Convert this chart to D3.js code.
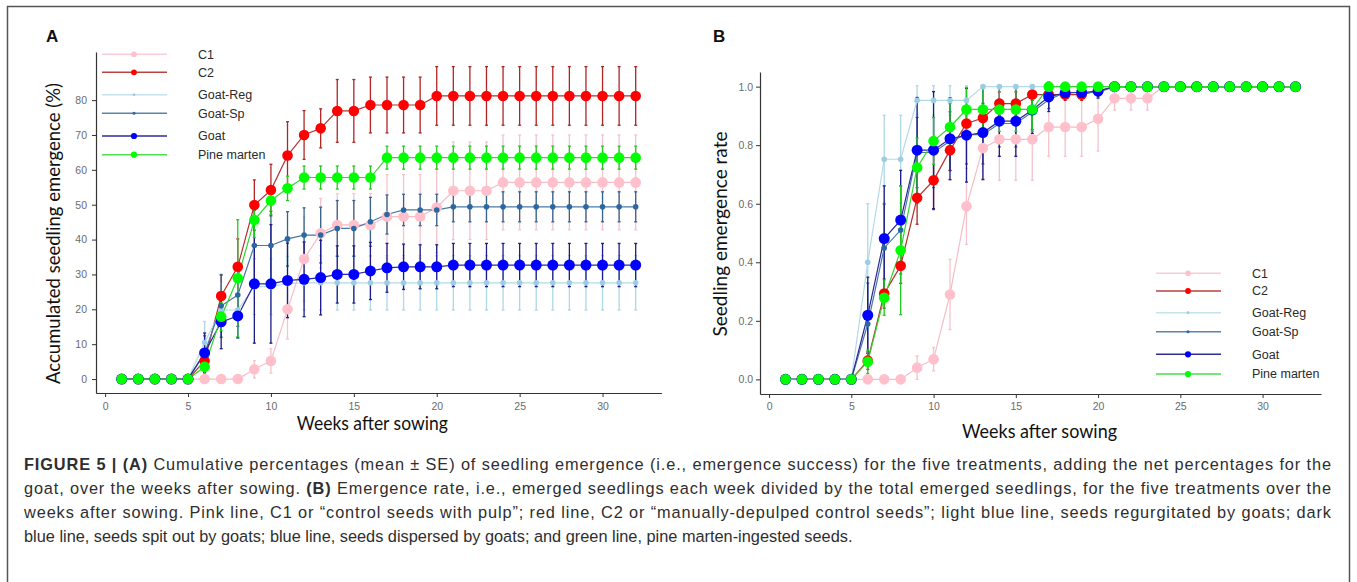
<!DOCTYPE html>
<html>
<head>
<meta charset="utf-8">
<script src="https://cdn.jsdelivr.net/npm/d3@7"></script>
<style>
  body { margin: 0; background: #fff; }
  svg { display: block; }
</style>
</head>
<body>
<svg id="fig" width="1357" height="582"></svg>
<script>
// ---- data ----
const weeks = [1,2,3,4,5,6,7,8,9,10,11,12,13,14,15,16,17,18,19,20,21,22,23,24,25,26,27,28,29,30,31,32];
const seriesNames = ["C1", "C2", "Goat-Reg", "Goat-Sp", "Goat", "Pine marten"];
const xTicks = [0, 5, 10, 15, 20, 25, 30];
const yTicksA = [0, 10, 20, 30, 40, 50, 60, 70, 80];
const yTicksB = [0, 0.2, 0.4, 0.6, 0.8, 1.0];

// Panel A: accumulated emergence (%) and SE
const a_C1 = [0,0,0,0,0,0,0,0,2.8,5.2,20,34.4,41.8,44.2,44.2,44.2,46.6,46.6,46.6,49.2,54,54,54,56.4,56.4,56.4,56.4,56.4,56.4,56.4,56.4,56.4];
const a_C1_se = [0,0,0,0,0,0,0,0,2.5,3.5,8.5,12,10,9,9,9,12,12,12,13,14,14,14,13.6,13.6,13.6,13.6,13.6,13.6,13.6,13.6,13.6];
const a_C2 = [0,0,0,0,0,5.2,23.8,32.2,49.9,54.2,64.1,70,71.9,76.9,76.9,78.6,78.6,78.6,78.6,81.2,81.2,81.2,81.2,81.2,81.2,81.2,81.2,81.2,81.2,81.2,81.2,81.2];
const a_C2_se = [0,0,0,0,0,3,6,8,7.2,7.4,9.7,7,5.6,9,9,8,8,8,8,8.4,8.4,8.4,8.4,8.4,8.4,8.4,8.4,8.4,8.4,8.4,8.4,8.4];
const a_GR = [0,0,0,0,0,10.5,19.8,19.8,26.5,26.5,27.4,27.6,27.6,27.6,27.6,27.6,27.6,27.6,27.6,27.6,27.6,27.6,27.6,27.6,27.6,27.6,27.6,27.6,27.6,27.6,27.6,27.6];
const a_GR_se = [0,0,0,0,0,6,8,8,8,8,7.8,7.8,7.8,7.8,7.8,7.8,7.8,7.8,7.8,7.8,7.8,7.8,7.8,7.8,7.8,7.8,7.8,7.8,7.8,7.8,7.8,7.8];
const a_GS = [0,0,0,0,0,7.4,21,24.1,38.3,38.3,40.2,41.3,41.3,43.2,43.2,45.1,47.2,48.5,48.5,48.5,49.4,49.4,49.4,49.4,49.4,49.4,49.4,49.4,49.4,49.4,49.4,49.4];
const a_GS_se = [0,0,0,0,0,5,9,9,10,9.8,7.8,7.8,8,8,8,7,5.6,4.5,4.5,4.5,4.3,4.3,4.3,4.3,4.3,4.3,4.3,4.3,4.3,4.3,4.3,4.3];
const a_G = [0,0,0,0,0,7.5,16.4,18.1,27.3,27.3,28.3,28.6,29.1,30,30,31,31.9,32.2,32.2,32.2,32.7,32.7,32.7,32.7,32.7,32.7,32.7,32.7,32.7,32.7,32.7,32.7];
const a_G_se = [0,0,0,0,0,5.7,7.7,6.3,17,17,10.7,10.7,10.7,8.2,8.2,8.2,7,6.5,6.3,6.3,6.2,6.2,6.2,6.2,6.2,6.2,6.2,6.2,6.2,6.2,6.2,6.2];
const a_PM = [0,0,0,0,0,3.5,17.9,28.9,45.6,51.2,54.7,57.8,57.8,57.8,57.8,57.8,63.5,63.5,63.5,63.5,63.5,63.5,63.5,63.5,63.5,63.5,63.5,63.5,63.5,63.5,63.5,63.5];
const a_PM_se = [0,0,0,0,0,3.5,4,16.8,5,4,3.5,3.3,3.3,3.3,3.3,3.3,3.3,3.3,3.3,3.3,3.3,3.3,3.3,3.3,3.3,3.3,3.3,3.3,3.3,3.3,3.3,3.3];

// Panel B: emergence rate and SE
const b_C1 = [0,0,0,0,0,0,0,0,0.04,0.069,0.29,0.591,0.79,0.82,0.82,0.82,0.862,0.862,0.862,0.89,0.96,0.96,0.96,1,1,1,1,1,1,1,1,1];
const b_C1_se = [0,0,0,0,0,0,0,0,0.04,0.04,0.12,0.13,0.11,0.14,0.14,0.14,0.1,0.1,0.1,0.11,0.04,0.04,0.04,0,0,0,0,0,0,0,0,0];
const b_C2 = [0,0,0,0,0,0.064,0.293,0.388,0.62,0.68,0.783,0.874,0.893,0.942,0.942,0.973,0.973,0.973,0.973,0.985,1,1,1,1,1,1,1,1,1,1,1,1];
const b_C2_se = [0,0,0,0,0,0.03,0.05,0.06,0.09,0.1,0.07,0.05,0.05,0.04,0.04,0.02,0.02,0.02,0.02,0.01,0,0,0,0,0,0,0,0,0,0,0,0];
const b_GR = [0,0,0,0,0,0.4,0.752,0.752,0.953,0.953,0.953,0.953,1,1,1,1,1,1,1,1,1,1,1,1,1,1,1,1,1,1,1,1];
const b_GR_se = [0,0,0,0,0,0.2,0.15,0.15,0.05,0.05,0.05,0.05,0,0,0,0,0,0,0,0,0,0,0,0,0,0,0,0,0,0,0,0];
const b_GS = [0,0,0,0,0,0.189,0.449,0.51,0.775,0.775,0.814,0.836,0.836,0.874,0.874,0.913,0.955,0.98,0.98,0.98,1,1,1,1,1,1,1,1,1,1,1,1];
const b_GS_se = [0,0,0,0,0,0.14,0.15,0.15,0.12,0.12,0.1,0.1,0.1,0.08,0.08,0.06,0.03,0.02,0.02,0.02,0,0,0,0,0,0,0,0,0,0,0,0];
const b_G = [0,0,0,0,0,0.219,0.481,0.544,0.783,0.783,0.822,0.834,0.843,0.882,0.882,0.92,0.965,0.979,0.98,0.985,1,1,1,1,1,1,1,1,1,1,1,1];
const b_G_se = [0,0,0,0,0,0.13,0.18,0.17,0.18,0.2,0.14,0.16,0.16,0.12,0.12,0.08,0.05,0.02,0.02,0.02,0,0,0,0,0,0,0,0,0,0,0,0];
const b_PM = [0,0,0,0,0,0.06,0.279,0.441,0.724,0.814,0.862,0.922,0.922,0.922,0.922,0.922,1,1,1,1,1,1,1,1,1,1,1,1,1,1,1,1];
const b_PM_se = [0,0,0,0,0,0.04,0.06,0.22,0.1,0.08,0.08,0.075,0.075,0.075,0.075,0.075,0,0,0,0,0,0,0,0,0,0,0,0,0,0,0,0];

const captionLines = [
  [["FIGURE 5 | (A)", true], [" Cumulative percentages (mean \u00b1 SE) of seedling emergence (i.e., emergence success) for the five treatments, adding the net percentages for the", false]],
  [["goat, over the weeks after sowing. ", false], ["(B)", true], [" Emergence rate, i.e., emerged seedlings each week divided by the total emerged seedlings, for the five treatments over the", false]],
  [["weeks after sowing. Pink line, C1 or \u201ccontrol seeds with pulp\u201d; red line, C2 or \u201cmanually-depulped control seeds\u201d; light blue line, seeds regurgitated by goats; dark", false]],
  [["blue line, seeds spit out by goats; blue line, seeds dispersed by goats; and green line, pine marten-ingested seeds.", false]]
];

// ---- styles ----
const style = {
  "C1":          { pt: "#ffc0cb", line: "#f6bcc7", err: "#f4c3cc", r: 5.3, lr: 2.8, key: "#f8cdd5" },
  "C2":          { pt: "#ff0000", line: "#b3302e", err: "#b22424", r: 5.3, lr: 2.9, key: "#b9433f" },
  "Goat-Reg":    { pt: "#9ccde2", line: "#b3d9e7", err: "#add8e6", r: 2.8, lr: 1.4, key: "#c6e2ec" },
  "Goat-Sp":     { pt: "#2a68a2", line: "#4a78a6", err: "#36648b", r: 2.8, lr: 1.5, key: "#5a84ab" },
  "Goat":        { pt: "#0000ff", line: "#2a2a98", err: "#1c1c8a", r: 5.5, lr: 3.1, key: "#2d2d96" },
  "Pine marten": { pt: "#00ff00", line: "#33d433", err: "#22c822", r: 5.3, lr: 3.1, key: "#4ddd4d" }
};

const svg = d3.select("#fig");
const AX = "#333";
const TICK = "#6b6b6b";
const TITLE_FONT = "Lato, 'Open Sans', sans-serif";

// frame around the figure
svg.append("rect")
  .attr("x", 7.5).attr("y", 6.5).attr("width", 1342).attr("height", 640)
  .attr("fill", "none").attr("stroke", "#555").attr("stroke-width", 1.5);

function drawPanel(p) {
  const x = d3.scaleLinear().domain([-0.55, 33.55]).range(p.xRange);
  const y = d3.scaleLinear().domain(p.yDomain).range(p.yRange);
  const g = svg.append("g");

  // axes
  const xa = g.append("g")
    .attr("transform", `translate(0,${p.yRange[0]})`)
    .call(d3.axisBottom(x).tickValues(xTicks).tickSize(4).tickSizeOuter(0).tickPadding(p.xPad));
  const ya = g.append("g")
    .attr("transform", `translate(${p.xRange[0]},0)`)
    .call(d3.axisLeft(y).tickValues(p.yTicks).tickSize(4).tickSizeOuter(0).tickPadding(p.yPad)
      .tickFormat(p.tickFmt));
  [xa, ya].forEach(a => {
    a.select(".domain").attr("stroke", AX).attr("stroke-width", 1.2);
    a.selectAll(".tick line").attr("stroke", AX).attr("stroke-width", 1);
    a.selectAll(".tick text").attr("fill", TICK)
      .style("font-family", "Arial, 'Liberation Sans', sans-serif").style("font-size", "10.5px");
  });

  const line = d3.line().x((d, i) => x(weeks[i])).y(d => y(d));

  // error bars (all series), then lines, then points — like ggplot layers
  seriesNames.forEach(name => {
    const vals = p.values[name], se = p.se[name], s = style[name];
    const eg = g.append("g").attr("stroke", s.err).attr("stroke-width", 1.3).attr("fill", "none");
    vals.forEach((v, i) => {
      if (!se[i]) return;
      const cx = x(weeks[i]), y1 = y(v - se[i]), y2 = y(v + se[i]);
      eg.append("line").attr("x1", cx).attr("x2", cx).attr("y1", y1).attr("y2", y2);
      eg.append("line").attr("x1", cx - 1.5).attr("x2", cx + 1.5).attr("y1", y1).attr("y2", y1);
      eg.append("line").attr("x1", cx - 1.5).attr("x2", cx + 1.5).attr("y1", y2).attr("y2", y2);
    });
  });
  seriesNames.forEach(name => {
    g.append("path").datum(p.values[name])
      .attr("d", line).attr("fill", "none")
      .attr("stroke", style[name].line).attr("stroke-width", 1.2);
  });
  seriesNames.forEach(name => {
    g.append("g").selectAll("circle").data(p.values[name]).join("circle")
      .attr("cx", (d, i) => x(weeks[i])).attr("cy", d => y(d))
      .attr("r", style[name].r).attr("fill", style[name].pt);
  });

  // legend
  const lg = g.append("g");
  seriesNames.forEach((name, i) => {
    const ry = p.legend.y + p.legend.rows[i];
    const s = style[name];
    lg.append("line").attr("x1", p.legend.x).attr("x2", p.legend.x + 65)
      .attr("y1", ry).attr("y2", ry).attr("stroke", s.key).attr("stroke-width", 1.6);
    lg.append("circle").attr("cx", p.legend.x + 32).attr("cy", ry).attr("r", s.lr).attr("fill", s.pt);
    lg.append("text").attr("x", p.legend.tx).attr("y", ry + 4.3)
      .attr("fill", "#2a2a2a").style("font-family", "Arial, 'Liberation Sans', sans-serif")
      .style("font-size", "12.5px").text(name);
  });

  // panel letter
  g.append("text").attr("x", p.letter[0]).attr("y", p.letter[1])
    .style("font-family", "Arial, 'Liberation Sans', sans-serif").style("font-weight", "bold")
    .style("font-size", "17px").attr("fill", "#111").text(p.name);

  // axis titles
  g.append("text").attr("x", p.xTitle[0]).attr("y", p.xTitle[1]).attr("text-anchor", "middle")
    .attr("textLength", p.xTitle[2]).attr("lengthAdjust", "spacingAndGlyphs")
    .style("font-family", TITLE_FONT).style("font-size", "19px").attr("fill", "#111")
    .text("Weeks after sowing");
  g.append("text").attr("transform", `translate(${p.yTitle[0]},${p.yTitle[1]}) rotate(-90)`)
    .attr("text-anchor", "middle")
    .attr("textLength", p.yTitle[2]).attr("lengthAdjust", "spacingAndGlyphs")
    .style("font-family", TITLE_FONT).style("font-size", "19px").attr("fill", "#111")
    .text(p.yLabel);
}

drawPanel({
  name: "A",
  xRange: [96, 661.4], yRange: [393, 52], yDomain: [-4.0, 93.8],
  yTicks: yTicksA, tickFmt: d3.format("d"), xPad: 6, yPad: 5,
  values: { "C1": a_C1, "C2": a_C2, "Goat-Reg": a_GR, "Goat-Sp": a_GS, "Goat": a_G, "Pine marten": a_PM },
  se: { "C1": a_C1_se, "C2": a_C2_se, "Goat-Reg": a_GR_se, "Goat-Sp": a_GS_se, "Goat": a_G_se, "Pine marten": a_PM_se },
  legend: { x: 102, tx: 198, y: 54.3, rows: [0, 18, 40.4, 59, 81.7, 100.4] },
  letter: [46, 42],
  xTitle: [372.3, 430, 151],
  yTitle: [59.5, 233.5, 301],
  yLabel: "Accumulated seedling emergence (%)"
});

drawPanel({
  name: "B",
  xRange: [760, 1321], yRange: [394, 72], yDomain: [-0.05, 1.05],
  yTicks: yTicksB, tickFmt: d3.format(".1f"), xPad: 5, yPad: 3,
  values: { "C1": b_C1, "C2": b_C2, "Goat-Reg": b_GR, "Goat-Sp": b_GS, "Goat": b_G, "Pine marten": b_PM },
  se: { "C1": b_C1_se, "C2": b_C2_se, "Goat-Reg": b_GR_se, "Goat-Sp": b_GS_se, "Goat": b_G_se, "Pine marten": b_PM_se },
  legend: { x: 1156, tx: 1252, y: 273.3, rows: [0, 17.7, 39.4, 58.4, 81, 100.7] },
  letter: [713, 42],
  xTitle: [1039.5, 437.5, 155],
  yTitle: [726.5, 234, 205],
  yLabel: "Seedling emergence rate"
});

// caption: one horizontal squeeze for all lines (condensed face), lines 1-3 justified
const cap = svg.append("g").attr("fill", "#2e2e2e")
  .style("font-family", "'Liberation Sans', Arial, sans-serif")
  .style("font-size", "16.5px");
const capBase = [469.5, 493.5, 517.5, 542];
const capTexts = captionLines.map((parts, li) => {
  const t = cap.append("text").attr("y", 0);
  parts.forEach(([s, bold]) => t.append("tspan").style("font-weight", bold ? "bold" : "normal").text(s));
  return t;
});
const k = 829 / capTexts[3].node().getComputedTextLength();
capTexts.forEach((t, i) => {
  t.attr("transform", `translate(24,${capBase[i]}) scale(${k},1)`);
  if (i < 3) t.attr("textLength", 1307 / k).attr("lengthAdjust", "spacing");
});
</script>
</body>
</html>
